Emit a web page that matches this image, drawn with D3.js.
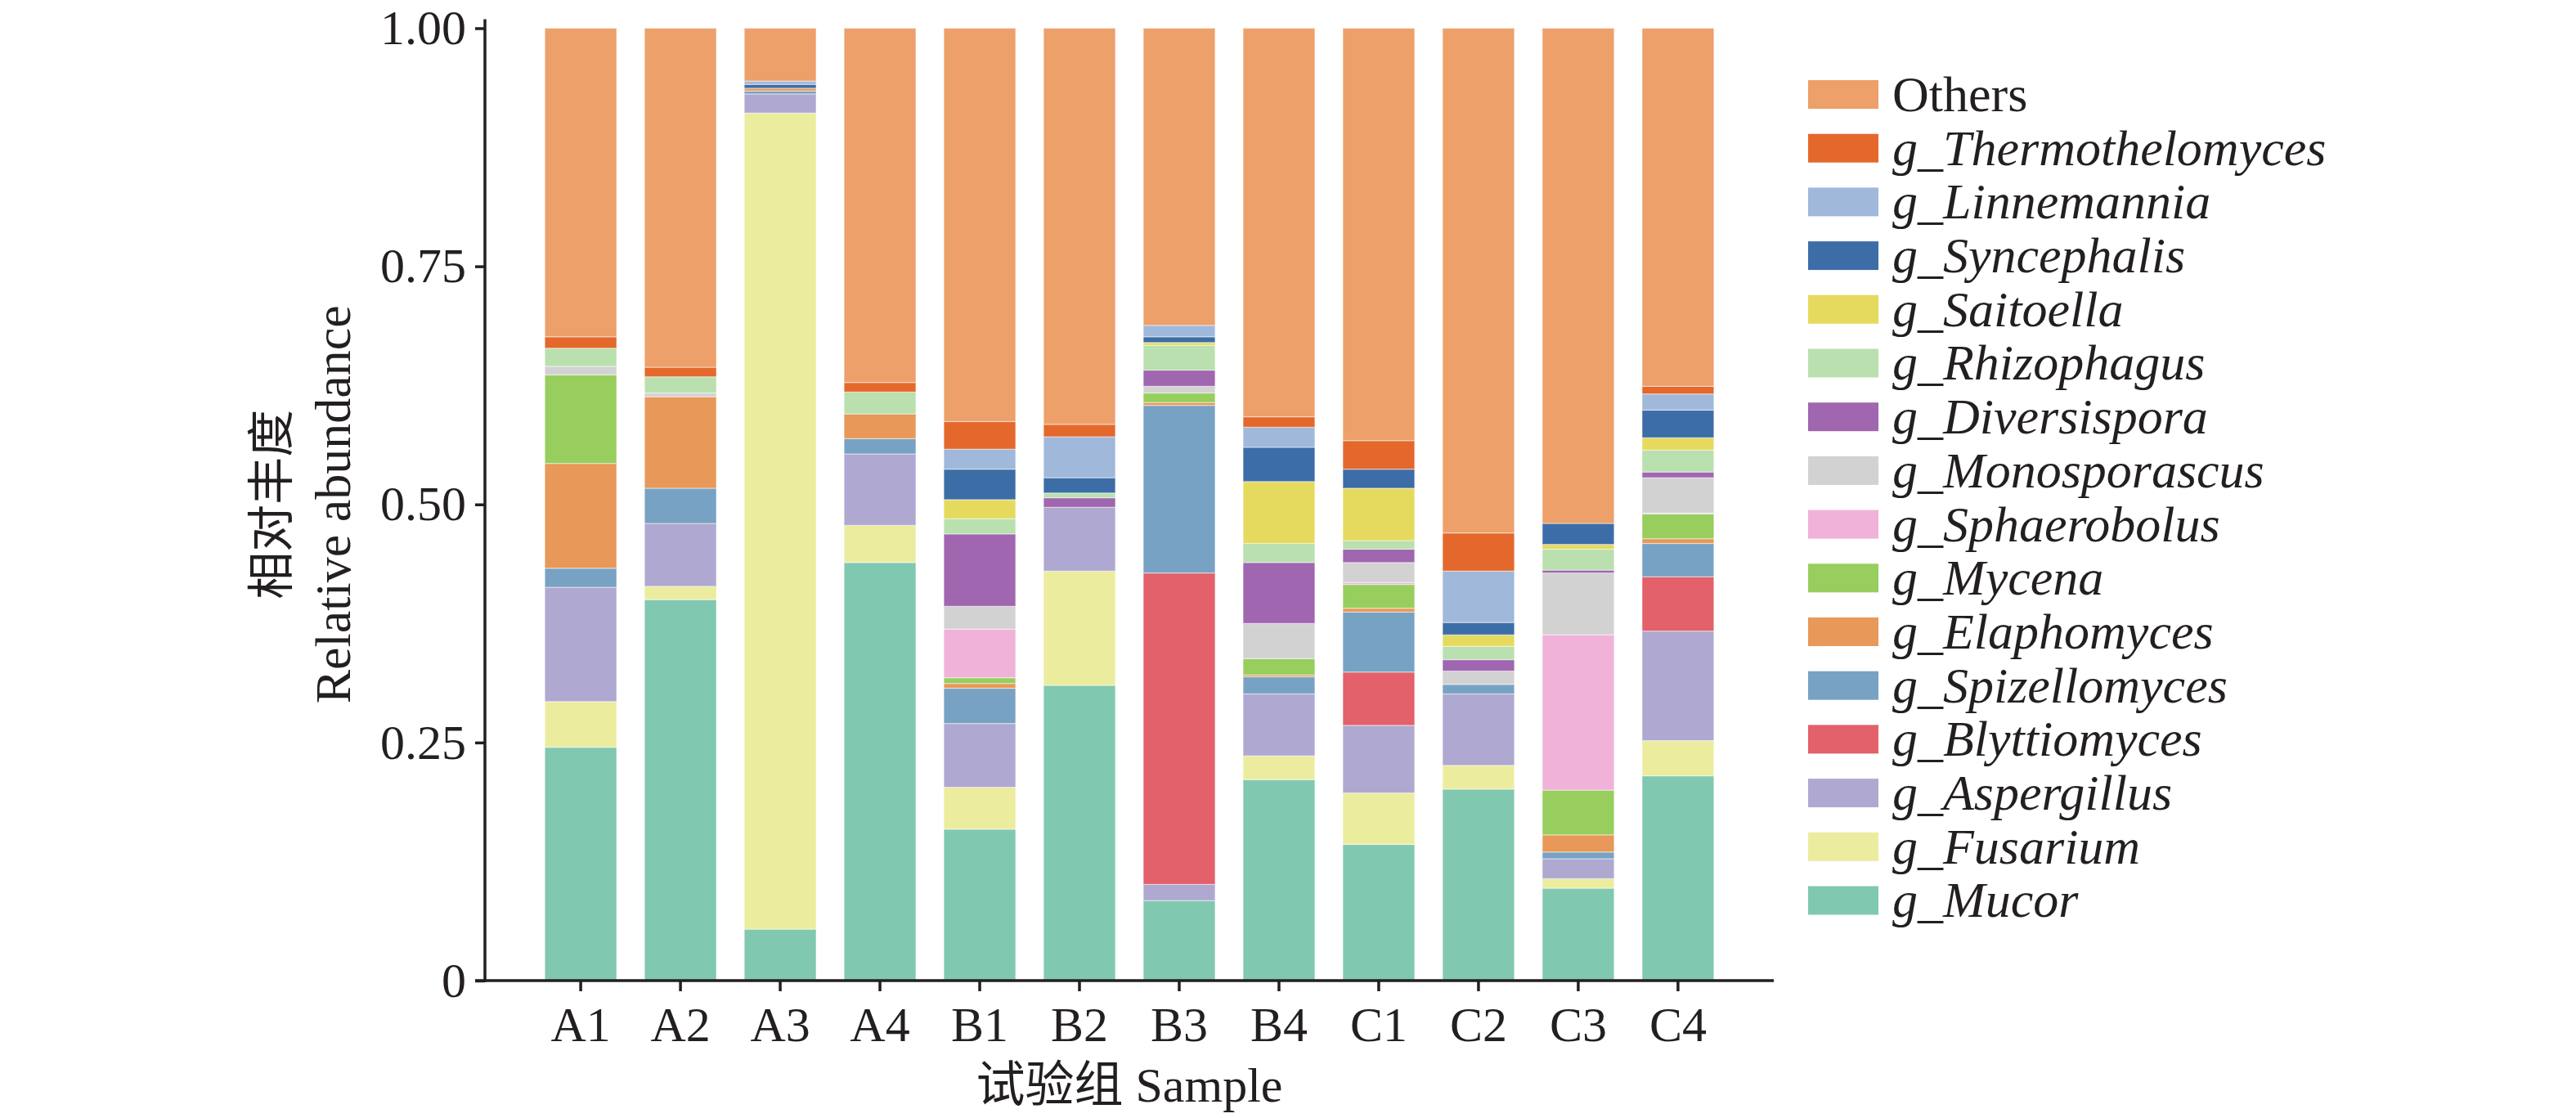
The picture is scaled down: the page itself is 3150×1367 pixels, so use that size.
<!DOCTYPE html>
<html>
<head>
<meta charset="utf-8">
<script src="https://cdn.jsdelivr.net/npm/d3@7"></script>
<style>
  body { margin: 0; background: #fff; }
  svg { display: block; }
  text { font-family: "Liberation Serif", "Times New Roman", "Noto Sans CJK SC", serif; fill: #231f20; }
</style>
</head>
<body>
<div id="chart"></div>
<script>
// samples on the x axis
const samples = ["A1", "A2", "A3", "A4", "B1", "B2", "B3", "B4", "C1", "C2", "C3", "C4"];

// stack order, bottom -> top
const genera = [
  "g_Mucor", "g_Fusarium", "g_Aspergillus", "g_Blyttiomyces", "g_Spizellomyces",
  "g_Elaphomyces", "g_Mycena", "g_Sphaerobolus", "g_Monosporascus", "g_Diversispora",
  "g_Rhizophagus", "g_Saitoella", "g_Syncephalis", "g_Linnemannia", "g_Thermothelomyces", "Others"
];
const colors = [
  "#81c8b1", "#ecec9e", "#afa8d0", "#e2616a", "#78a2c3",
  "#e89858", "#97ce5e", "#f0b2d8", "#d2d2d2", "#a066af",
  "#b9e0ae", "#e5da5e", "#3d6da6", "#a0b8da", "#e4682c", "#eda06a"
];

// relative abundance per genus, one value per sample (A1..C4)
const mucor          = [0.245, 0.400, 0.054, 0.439, 0.159, 0.310, 0.084, 0.211, 0.143, 0.201, 0.097, 0.215];
const fusarium       = [0.048, 0.014, 0.857, 0.039, 0.044, 0.120, 0.000, 0.025, 0.054, 0.025, 0.010, 0.037];
const aspergillus    = [0.120, 0.066, 0.020, 0.075, 0.067, 0.067, 0.017, 0.065, 0.071, 0.075, 0.021, 0.115];
const blyttiomyces   = [0.000, 0.000, 0.000, 0.000, 0.000, 0.000, 0.327, 0.000, 0.056, 0.000, 0.000, 0.057];
const spizellomyces  = [0.020, 0.037, 0.003, 0.016, 0.037, 0.000, 0.176, 0.018, 0.063, 0.010, 0.007, 0.035];
const elaphomyces    = [0.110, 0.096, 0.003, 0.026, 0.005, 0.000, 0.003, 0.002, 0.004, 0.000, 0.018, 0.005];
const mycena         = [0.093, 0.000, 0.000, 0.000, 0.006, 0.000, 0.010, 0.017, 0.025, 0.000, 0.047, 0.026];
const sphaerobolus   = [0.000, 0.000, 0.000, 0.000, 0.051, 0.000, 0.000, 0.000, 0.002, 0.000, 0.163, 0.001];
const monosporascus  = [0.009, 0.004, 0.000, 0.000, 0.024, 0.000, 0.007, 0.037, 0.021, 0.014, 0.065, 0.037];
const diversispora   = [0.000, 0.000, 0.000, 0.000, 0.076, 0.010, 0.017, 0.064, 0.014, 0.012, 0.003, 0.006];
const rhizophagus    = [0.019, 0.017, 0.000, 0.023, 0.016, 0.005, 0.026, 0.020, 0.009, 0.014, 0.022, 0.023];
const saitoella      = [0.000, 0.000, 0.000, 0.000, 0.020, 0.000, 0.003, 0.065, 0.055, 0.012, 0.005, 0.013];
const syncephalis    = [0.000, 0.000, 0.004, 0.000, 0.032, 0.016, 0.006, 0.036, 0.020, 0.013, 0.022, 0.029];
const linnemannia    = [0.000, 0.000, 0.0035, 0.000, 0.021, 0.043, 0.012, 0.021, 0.000, 0.054, 0.000, 0.017];
const thermothelomyces = [0.012, 0.010, 0.000, 0.010, 0.029, 0.013, 0.000, 0.011, 0.030, 0.040, 0.000, 0.008];
const others         = [0.324, 0.356, 0.0555, 0.372, 0.413, 0.416, 0.312, 0.408, 0.433, 0.530, 0.520, 0.376];

const yTicks = [0, 0.25, 0.5, 0.75, 1];
const yTickLabels = ["0", "0.25", "0.50", "0.75", "1.00"];

const series = [
  mucor, fusarium, aspergillus, blyttiomyces, spizellomyces, elaphomyces, mycena,
  sphaerobolus, monosporascus, diversispora, rhizophagus, saitoella, syncephalis,
  linnemannia, thermothelomyces, others
];

const W = 3150, H = 1367;
const ink = "#231f20";

const rows = samples.map((s, i) => {
  const r = { sample: s };
  genera.forEach((g, k) => { r[g] = series[k][i]; });
  return r;
});

const stacked = d3.stack().keys(genera)(rows);
const color = d3.scaleOrdinal().domain(genera).range(colors);

const x = d3.scaleBand().domain(samples).range([593, 2169]).paddingInner(0.28).paddingOuter(0.6);
const y = d3.scaleLinear().domain([0, 1]).range([1199, 34.5]);

const svg = d3.select("#chart").append("svg")
  .attr("width", W).attr("height", H)
  .attr("viewBox", `0 0 ${W} ${H}`);

// bars
svg.append("g")
  .selectAll("g")
  .data(stacked)
  .join("g")
  .attr("fill", d => color(d.key))
  .selectAll("rect")
  .data(d => d)
  .join("rect")
  .attr("x", d => x(d.data.sample))
  .attr("y", d => y(d[1]))
  .attr("width", x.bandwidth())
  .attr("height", d => Math.max(0, y(d[0]) - y(d[1])))
  .attr("stroke", "#fff")
  .attr("stroke-opacity", 0.45)
  .attr("stroke-width", 1.2);

// y axis
const yAxis = svg.append("g")
  .attr("transform", `translate(${x.range()[0]},0)`)
  .call(d3.axisLeft(y).tickValues(yTicks).tickFormat((d, i) => yTickLabels[i]).tickSize(12).tickPadding(11));
yAxis.select(".domain").remove();
yAxis.selectAll(".tick line").attr("stroke", ink).attr("stroke-width", 3.5);
yAxis.selectAll(".tick text").style("font-size", "60px").attr("fill", ink);
yAxis.append("line")
  .attr("x1", 0).attr("x2", 0)
  .attr("y1", y(0) + 1.75).attr("y2", y(1) - 11)
  .attr("stroke", ink).attr("stroke-width", 3.5);

// x axis
const xAxis = svg.append("g")
  .attr("transform", `translate(0,${y(0)})`)
  .call(d3.axisBottom(x).tickSize(13).tickPadding(18));
xAxis.select(".domain").remove();
xAxis.selectAll(".tick line").attr("stroke", ink).attr("stroke-width", 3.5);
xAxis.selectAll(".tick text").style("font-size", "60px").attr("fill", ink);
xAxis.append("line")
  .attr("x1", x.range()[0] - 12).attr("x2", x.range()[1])
  .attr("y1", 0).attr("y2", 0)
  .attr("stroke", ink).attr("stroke-width", 3.5);

// axis titles
const xMid = (x.range()[0] + x.range()[1]) / 2;
svg.append("text")
  .attr("x", xMid).attr("y", 1347)
  .attr("text-anchor", "middle")
  .style("font-size", "60px")
  .text("试验组 Sample");

const yMid = (y(0) + y(1)) / 2;
svg.append("text")
  .attr("transform", `translate(352,${yMid}) rotate(-90)`)
  .attr("text-anchor", "middle")
  .style("font-size", "58px")
  .style("font-family", "'Noto Sans CJK SC', sans-serif")
  .text("相对丰度");
svg.append("text")
  .attr("transform", `translate(428,${yMid}) rotate(-90)`)
  .attr("text-anchor", "middle")
  .style("font-size", "62px")
  .text("Relative abundance");

// legend (top -> bottom is reverse of stack)
const legendKeys = genera.slice().reverse();
const lg = svg.append("g").attr("transform", "translate(2211,98)");
const item = lg.selectAll("g")
  .data(legendKeys)
  .join("g")
  .attr("transform", (d, i) => `translate(0,${i * 65.7})`);
item.append("rect")
  .attr("width", 86).attr("height", 35)
  .attr("fill", d => color(d));
item.append("text")
  .attr("x", 103).attr("y", 17.5)
  .attr("dy", "0.33em")
  .style("font-size", "62px")
  .style("font-style", d => d === "Others" ? "normal" : "italic")
  .text(d => d);
</script>
</body>
</html>
